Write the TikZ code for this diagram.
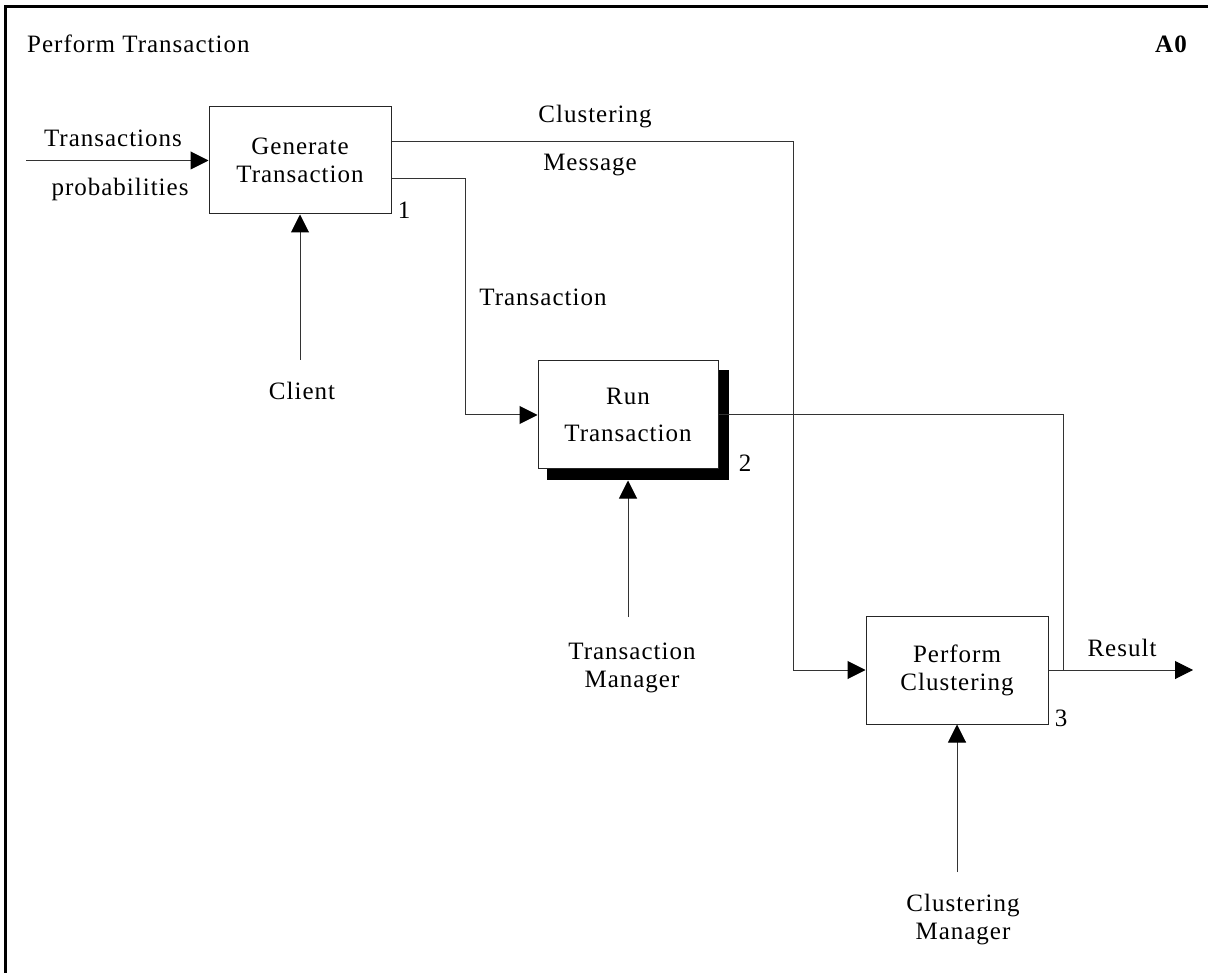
\documentclass[tikz,border=0pt]{standalone}
\usepackage{fontspec}
\setmainfont{Liberation Serif}[LetterSpace=4]
\usetikzlibrary{arrows.meta}
\tikzset{
	func/.style={draw=black!85, line width=1pt, fill=white, minimum width=182pt, minimum height=107pt, align=center, inner sep=0pt},
	flow/.style={line width=1pt, color=black!80},
	flowarr/.style={flow, -{Triangle[length=18pt,width=18pt,color=black]}},
	lbl/.style={align=center},
}
\begin{document}
\begin{tikzpicture}[x=1pt, y=-1pt, font=\fontsize{25}{28}\selectfont]
		%%%%% START %%%%%
		\useasboundingbox (0,0) rectangle (1208,973);
		
		\draw[line width=3.2pt] (1208,6.5) -- (5.5,6.5) -- (5.5,973);
		
		\node[anchor=west, inner sep=0pt] (title) at (27,44) {Perform Transaction};
		\node[font=\fontsize{25}{28}\selectfont\bfseries] (nr) at (1171,44) {A0};
		
		\node[func] (gen) at (300,160.5) {Generate\\Transaction};
		\fill (547,370) rectangle (729,480);
		\node[func, minimum width=180pt, minimum height=108pt] (run) at (628,415) {Run\\[9pt]Transaction};
		\node[func, minimum height=108pt] (clu) at (957,670) {Perform\\Clustering};
		
		\node (n1) at (404,210) {1};
		\node (n2) at (745,463) {2};
		\node (n3) at (1061,718) {3};
		
		\coordinate (tin) at (26,160.5);
		\coordinate (cli) at (300,360);
		\coordinate (msg) at (793,142);
		\coordinate (trn) at (465,179);
		\coordinate (res) at (1063,415);
		\coordinate (out) at (1193,670);
		\coordinate (tmg) at (628,617);
		\coordinate (cmg) at (957,872);
		
		\draw[flowarr] (tin) -- (gen.west);
		\draw[flowarr] (cli) -- (gen.south);
		\draw[flowarr] (gen.east |- msg) -- (msg) |- (clu.west);
		\draw[flowarr] (gen.east |- trn) -- (trn) |- (run.west);
		\draw[flow] (run.east) -- (res) -- (res |- clu.east);
		\draw[flowarr] (clu.east) -- (out);
		\draw[flowarr] (tmg) -- ([yshift=-11pt]run.south);
		\draw[flowarr] (cmg) -- (clu.south);
		
		\node (ltr) at (113,138) {Transactions};
		\node (lpr) at (120,189) {probabilities};
		\node (lcl) at (302,391) {Client};
		\node (lcm) at (595,117) {Clustering};
		\node (lms) at (590,165) {Message};
		\node (ltx) at (543,297) {Transaction};
		\node[lbl] (ltm) at (632,668) {Transaction\\Manager};
		\node (lrs) at (1122,648) {Result};
		\node[lbl] (lcg) at (963,920) {Clustering\\Manager};
		
		%%%%% END %%%%%
\end{tikzpicture}
\end{document}
